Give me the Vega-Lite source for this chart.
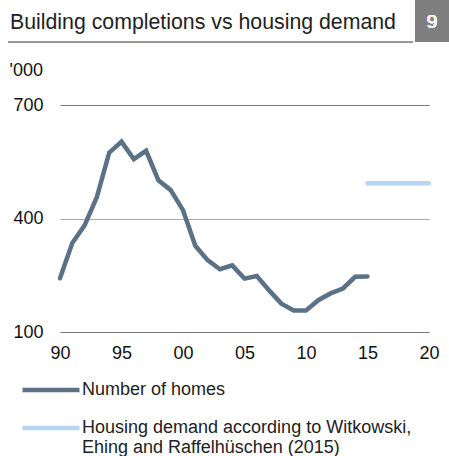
{
  "$schema": "https://vega.github.io/schema/vega-lite/v6.json",
  "width": 369,
  "height": 227,
  "autosize": {"type": "none"},
  "padding": {"left": 60, "top": 105, "right": 20, "bottom": 124},
  "background": "white",
  "config": {"font": "Liberation Sans", "view": {"stroke": null}},
  "title": {
    "text": "Building completions vs housing demand",
    "anchor": "start",
    "frame": "group",
    "font": "Liberation Sans",
    "fontSize": 21.3,
    "fontWeight": "normal",
    "color": "#222222",
    "baseline": "alphabetic",
    "dx": -50,
    "offset": 0,
    "dy": 50
  },
  "data": {
    "values": [
      {"year": 1990, "value": 242, "series": "Number of homes"},
      {"year": 1991, "value": 335, "series": "Number of homes"},
      {"year": 1992, "value": 382, "series": "Number of homes"},
      {"year": 1993, "value": 457, "series": "Number of homes"},
      {"year": 1994, "value": 574, "series": "Number of homes"},
      {"year": 1995, "value": 603, "series": "Number of homes"},
      {"year": 1996, "value": 557, "series": "Number of homes"},
      {"year": 1997, "value": 579, "series": "Number of homes"},
      {"year": 1998, "value": 501, "series": "Number of homes"},
      {"year": 1999, "value": 475, "series": "Number of homes"},
      {"year": 2000, "value": 422, "series": "Number of homes"},
      {"year": 2001, "value": 328, "series": "Number of homes"},
      {"year": 2002, "value": 290, "series": "Number of homes"},
      {"year": 2003, "value": 266, "series": "Number of homes"},
      {"year": 2004, "value": 276, "series": "Number of homes"},
      {"year": 2005, "value": 241, "series": "Number of homes"},
      {"year": 2006, "value": 248, "series": "Number of homes"},
      {"year": 2007, "value": 210, "series": "Number of homes"},
      {"year": 2008, "value": 175, "series": "Number of homes"},
      {"year": 2009, "value": 157, "series": "Number of homes"},
      {"year": 2010, "value": 157, "series": "Number of homes"},
      {"year": 2011, "value": 184, "series": "Number of homes"},
      {"year": 2012, "value": 202, "series": "Number of homes"},
      {"year": 2013, "value": 215, "series": "Number of homes"},
      {"year": 2014, "value": 246, "series": "Number of homes"},
      {"year": 2015, "value": 247, "series": "Number of homes"},
      {"year": 2015, "value": 493, "series": "Housing demand according to Witkowski, Ehing and Raffelhüschen (2015)"},
      {"year": 2020, "value": 493, "series": "Housing demand according to Witkowski, Ehing and Raffelhüschen (2015)"}
    ]
  },
  "layer": [
    {
      "mark": {"type": "line", "strokeWidth": 4.5, "strokeCap": "round", "strokeJoin": "miter", "clip": false},
      "encoding": {
        "x": {
          "field": "year", "type": "quantitative",
          "scale": {"domain": [1990, 2020], "nice": false, "zero": false},
          "axis": {
            "title": null, "values": [1990, 1995, 2000, 2005, 2010, 2015, 2020],
            "labelExpr": "substring(toString(datum.value), 2, 4)",
            "grid": false, "domain": false, "ticks": false,
            "labelFont": "Liberation Sans", "labelFontSize": 18, "labelColor": "#111111",
            "labelPadding": 12, "labelFlush": false
          }
        },
        "y": {
          "field": "value", "type": "quantitative",
          "scale": {"domain": [100, 700], "nice": false, "zero": false},
          "axis": {
            "title": "'000", "titleAngle": 0, "titleX": -51, "titleY": -35,
            "titleAlign": "left", "titleBaseline": "middle",
            "titleFont": "Liberation Sans", "titleFontSize": 18, "titleFontWeight": "normal", "titleColor": "#111111",
            "values": [100, 400, 700],
            "grid": true,
            "gridColor": {"condition": {"test": "datum.value == 400", "value": "#aaaaaa"}, "value": "#777777"},
            "gridWidth": 1.2,
            "domain": false, "ticks": false,
            "labelFont": "Liberation Sans", "labelFontSize": 18, "labelColor": "#111111",
            "labelPadding": 17
          }
        },
        "color": {
          "field": "series", "type": "nominal",
          "scale": {
            "domain": ["Number of homes", "Housing demand according to Witkowski, Ehing and Raffelhüschen (2015)"],
            "range": ["#5b7186", "#b7d4f0"]
          },
          "legend": {
            "title": null,
            "orient": "none",
            "legendX": -40,
            "legendY": 274,
            "direction": "vertical",
            "symbolType": "stroke",
            "symbolSize": 3249,
            "symbolStrokeWidth": 4.5,
            "clipHeight": 22,
            "rowPadding": 16,
            "labelFont": "Liberation Sans",
            "labelFontSize": 18,
            "labelColor": "#222222",
            "labelOffset": 0,
            "labelLimit": 400,
            "labelExpr": "datum.label == 'Number of homes' ? datum.label : ['Housing demand according to Witkowski,', 'Ehing and Raffelhüschen (2015)']"
          }
        }
      }
    },
    {
      "mark": {"type": "rect", "color": "#7f7f7f", "clip": false},
      "encoding": {
        "x": {"value": 355}, "x2": {"value": 390},
        "y": {"value": -105}, "y2": {"value": -63}
      }
    },
    {
      "mark": {"type": "text", "text": "9", "color": "#f2f2f2", "font": "Liberation Sans", "fontSize": 19, "fontWeight": "normal", "align": "center", "baseline": "middle", "clip": false},
      "encoding": {"x": {"value": 372}, "y": {"value": -83}}
    },
    {
      "mark": {"type": "rule", "color": "#999999", "strokeWidth": 2, "clip": false},
      "encoding": {"x": {"value": -52}, "x2": {"value": 353}, "y": {"value": -63}}
    }
  ]
}
